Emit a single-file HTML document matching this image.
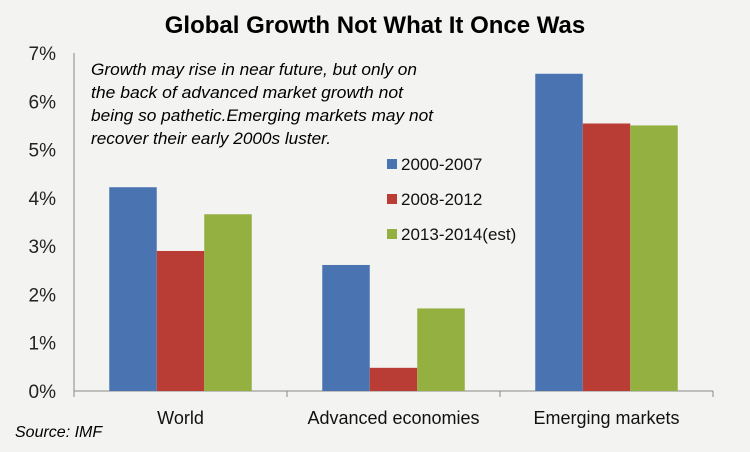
<!DOCTYPE html>
<html><head><meta charset="utf-8">
<style>
html,body{margin:0;padding:0;background:#f3f3f1;}
svg{display:block;font-family:"Liberation Sans",sans-serif;}
</style></head>
<body>
<svg id="chart" width="750" height="452">
<rect width="750" height="452" fill="#f3f3f1"/>
<text x="375" y="33" text-anchor="middle" font-size="24" font-weight="bold" fill="#000">Global Growth Not What It Once Was</text>
<g font-style="italic" font-size="17" fill="#000">
<text x="91" y="75" textLength="326" lengthAdjust="spacingAndGlyphs">Growth may rise in near future, but only on</text>
<text x="91" y="98" textLength="312" lengthAdjust="spacingAndGlyphs">the back of advanced market growth not</text>
<text x="91" y="121" textLength="342" lengthAdjust="spacingAndGlyphs">being so pathetic.Emerging markets may not</text>
<text x="91" y="144" textLength="240" lengthAdjust="spacingAndGlyphs">recover their early 2000s luster.</text>
</g>
<g id="axes"></g>
<g id="bars"></g>
<g id="legend"></g>
<text x="15" y="437" font-style="italic" font-size="16">Source: IMF</text>
</svg>
<script>
const categories = ["World","Advanced economies","Emerging markets"];
const seriesNames = ["2000-2007","2008-2012","2013-2014(est)"];
const s2000 = [4.22, 2.61, 6.57];
const s2008 = [2.90, 0.48, 5.54];
const s2013 = [3.66, 1.71, 5.50];
const yTicks = [0,1,2,3,4,5,6,7];
const colors = ["#4a74b1","#b93c35","#93b040"];
const series = [s2000, s2008, s2013];
const NS = "http://www.w3.org/2000/svg";
const x0 = 74, catW = 213, y0 = 391, yTop = 53, yMax = 7;
const yS = v => y0 - (v / yMax) * (y0 - yTop);
const barW = 47.5;
function mk(tag, attrs, parent){const e=document.createElementNS(NS,tag);for(const k in attrs)e.setAttribute(k,attrs[k]);parent.appendChild(e);return e;}
const axes = document.getElementById('axes');
const yAxis = mk('line',{x1:x0,y1:yTop,x2:x0,y2:y0,stroke:'#888','stroke-width':1},axes);


const xAxis = mk('line',{x1:x0,y1:y0,x2:x0+catW*categories.length,y2:y0,stroke:'#888','stroke-width':1},axes);


yTicks.forEach(t=>{
  const tx = mk('text',{x:56,y:yS(t)+7,'text-anchor':'end','font-size':19,fill:'#222'},axes);
  tx.textContent = t + '%';
  
  
});
for(let i=0;i<=categories.length;i++){
  const tk = mk('line',{x1:x0+i*catW,y1:y0,x2:x0+i*catW,y2:y0+6,stroke:'#888'},axes);
  
  
}
const bars = document.getElementById('bars');
categories.forEach((c,ci)=>{
  const cx = x0 + catW*ci + catW/2;
  series.forEach((s,si)=>{
    const x = cx - 1.5*barW + si*barW;
    const r = mk('rect',{x:x,y:yS(s[ci]),width:barW,height:y0-yS(s[ci]),fill:colors[si]},bars);
    
    
  });
  const lab = mk('text',{x:cx,y:424,'text-anchor':'middle','font-size':18,fill:'#111'},bars);
  lab.textContent = c;
  
  
});
const legend = document.getElementById('legend');
const ly = [164,199,234];
seriesNames.forEach((n,i)=>{
  const sq = mk('rect',{x:387,y:ly[i]-5,width:10,height:10,fill:colors[i]},legend);
  
  
  const t = mk('text',{x:401,y:ly[i]+6,'font-size':17,fill:'#111'},legend);
  t.textContent = n;
  
  
});
</script>
</body></html>
